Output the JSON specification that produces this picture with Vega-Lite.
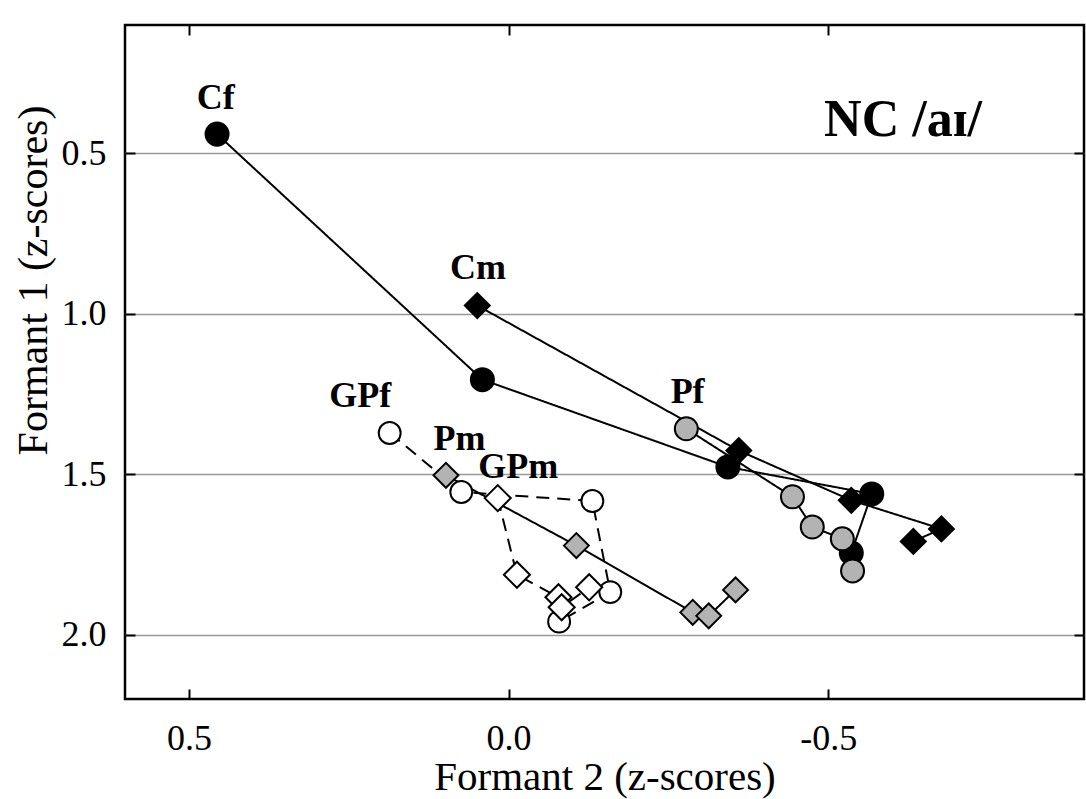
{
  "$schema": "https://vega.github.io/schema/vega-lite/v6.json",
  "width": 959,
  "height": 674,
  "autosize": {"type": "none"},
  "padding": {"left": 125, "top": 25, "right": 2, "bottom": 100},
  "background": "white",
  "config": {
    "view": {"stroke": "black", "strokeWidth": 2.5},
    "font": "Liberation Serif"
  },
  "datasets": {
    "pts": [
      {"g": "Cf", "i": 1, "f2": 0.456, "f1": 0.440},
      {"g": "Cf", "i": 2, "f2": 0.041, "f1": 1.205},
      {"g": "Cf", "i": 3, "f2": -0.343, "f1": 1.477},
      {"g": "Cf", "i": 4, "f2": -0.568, "f1": 1.561},
      {"g": "Cf", "i": 5, "f2": -0.536, "f1": 1.745},
      {"g": "Cm", "i": 1, "f2": 0.049, "f1": 0.974},
      {"g": "Cm", "i": 2, "f2": -0.360, "f1": 1.426},
      {"g": "Cm", "i": 3, "f2": -0.536, "f1": 1.581},
      {"g": "Cm", "i": 4, "f2": -0.677, "f1": 1.670},
      {"g": "Cm", "i": 5, "f2": -0.633, "f1": 1.709},
      {"g": "Pf", "i": 1, "f2": -0.278, "f1": 1.358},
      {"g": "Pf", "i": 2, "f2": -0.444, "f1": 1.570},
      {"g": "Pf", "i": 3, "f2": -0.475, "f1": 1.664},
      {"g": "Pf", "i": 4, "f2": -0.522, "f1": 1.701},
      {"g": "Pf", "i": 5, "f2": -0.538, "f1": 1.801},
      {"g": "Pm", "i": 1, "f2": 0.098, "f1": 1.503},
      {"g": "Pm", "i": 2, "f2": -0.106, "f1": 1.722},
      {"g": "Pm", "i": 3, "f2": -0.288, "f1": 1.930},
      {"g": "Pm", "i": 4, "f2": -0.313, "f1": 1.941},
      {"g": "Pm", "i": 5, "f2": -0.355, "f1": 1.860},
      {"g": "GPf", "i": 1, "f2": 0.186, "f1": 1.371},
      {"g": "GPf", "i": 2, "f2": 0.074, "f1": 1.555},
      {"g": "GPf", "i": 3, "f2": -0.131, "f1": 1.583},
      {"g": "GPf", "i": 4, "f2": -0.159, "f1": 1.867},
      {"g": "GPf", "i": 5, "f2": -0.079, "f1": 1.959},
      {"g": "GPm", "i": 1, "f2": 0.017, "f1": 1.574},
      {"g": "GPm", "i": 2, "f2": -0.013, "f1": 1.813},
      {"g": "GPm", "i": 3, "f2": -0.078, "f1": 1.883},
      {"g": "GPm", "i": 4, "f2": -0.083, "f1": 1.914},
      {"g": "GPm", "i": 5, "f2": -0.126, "f1": 1.852}
    ],
    "labels": [
      {"name": "Cf", "f2": 0.458, "f1": 0.327},
      {"name": "Cm", "f2": 0.048, "f1": 0.858},
      {"name": "Pf", "f2": -0.280, "f1": 1.242},
      {"name": "GPf", "f2": 0.232, "f1": 1.255},
      {"name": "Pm", "f2": 0.077, "f1": 1.389},
      {"name": "GPm", "f2": -0.015, "f1": 1.476}
    ],
    "heading": [
      {"name": "NC /aɪ/", "f2": -0.617, "f1": 0.396}
    ]
  },
  "resolve": {"axis": {"x": "independent", "y": "independent"}},
  "layer": [
    {
      "data": {"name": "pts"},
      "mark": {"type": "line", "stroke": "black", "strokeWidth": 2},
      "encoding": {
        "x": {
          "field": "f2", "type": "quantitative",
          "scale": {"domain": [0.6, -0.9], "nice": false, "zero": false},
          "axis": {
            "orient": "bottom", "values": [0.5, 0, -0.5],
            "labelExpr": "datum.value < 0 ? '-' + format(-datum.value, '.1f') : format(datum.value, '.1f')",
            "title": "Formant 2 (z-scores)", "grid": false, "domain": false,
            "tickSize": -10, "tickColor": "black", "tickWidth": 2,
            "labelFont": "Liberation Serif", "labelFontSize": 36, "labelColor": "black",
            "labelPadding": 32,
            "titleFont": "Liberation Serif", "titleFontSize": 41, "titleFontWeight": "normal",
            "titleColor": "black", "titleBaseline": "alphabetic", "titleY": 90
          }
        },
        "y": {
          "field": "f1", "type": "quantitative",
          "scale": {"domain": [0.1, 2.2], "nice": false, "zero": false, "reverse": true},
          "axis": {
            "orient": "left", "values": [0.5, 1, 1.5, 2], "format": ".1f",
            "title": "Formant 1 (z-scores)", "grid": true, "gridColor": "#999999", "gridWidth": 1.5,
            "domain": false,
            "tickSize": -10, "tickColor": "black", "tickWidth": 2,
            "labelFont": "Liberation Serif", "labelFontSize": 36, "labelColor": "black",
            "labelPadding": 29,
            "titleFont": "Liberation Serif", "titleFontSize": 42, "titleFontWeight": "normal",
            "titleColor": "black", "titleX": -92, "titleY": 255, "titleAngle": -90,
            "titleBaseline": "middle", "titleAlign": "center"
          }
        },
        "detail": {"field": "g", "type": "nominal"},
        "order": {"field": "i", "type": "quantitative"},
        "strokeDash": {
          "field": "g", "type": "nominal",
          "scale": {
            "domain": ["Cf", "Cm", "Pf", "Pm", "GPf", "GPm"],
            "range": [[1, 0], [1, 0], [1, 0], [1, 0], [13, 8], [13, 8]]
          },
          "legend": null
        }
      }
    },
    {
      "data": {"name": "pts"},
      "mark": {"type": "point", "filled": false, "stroke": "black", "strokeWidth": 2, "opacity": 1},
      "encoding": {
        "x": {
          "field": "f2", "type": "quantitative",
          "axis": {
            "orient": "top", "values": [0.5, 0, -0.5], "labels": false, "title": null,
            "grid": false, "domain": false,
            "tickSize": -10, "tickColor": "black", "tickWidth": 2
          }
        },
        "y": {
          "field": "f1", "type": "quantitative",
          "axis": {
            "orient": "right", "values": [0.5, 1, 1.5, 2], "labels": false, "title": null,
            "grid": false, "domain": false,
            "tickSize": -10, "tickColor": "black", "tickWidth": 2
          }
        },
        "shape": {
          "field": "g", "type": "nominal",
          "scale": {
            "domain": ["Cf", "Cm", "Pf", "Pm", "GPf", "GPm"],
            "range": ["circle", "diamond", "circle", "diamond", "circle", "diamond"]
          },
          "legend": null
        },
        "fill": {
          "field": "g", "type": "nominal",
          "scale": {
            "domain": ["Cf", "Cm", "Pf", "Pm", "GPf", "GPm"],
            "range": ["black", "black", "#b3b3b3", "#b3b3b3", "white", "white"]
          },
          "legend": null
        },
        "size": {
          "field": "g", "type": "nominal",
          "scale": {
            "type": "ordinal",
            "domain": ["Cf", "Cm", "Pf", "Pm", "GPf", "GPm"],
            "range": [530, 620, 530, 620, 480, 680]
          },
          "legend": null
        }
      }
    },
    {
      "data": {"name": "labels"},
      "mark": {"type": "text", "font": "Liberation Serif", "fontWeight": "bold", "fontSize": 36, "color": "black", "align": "center", "baseline": "middle"},
      "encoding": {
        "x": {"field": "f2", "type": "quantitative", "axis": null},
        "y": {"field": "f1", "type": "quantitative", "axis": null},
        "text": {"field": "name", "type": "nominal"}
      }
    },
    {
      "data": {"name": "heading"},
      "mark": {"type": "text", "font": "Liberation Serif", "fontWeight": "bold", "fontSize": 52, "color": "black", "align": "center", "baseline": "middle"},
      "encoding": {
        "x": {"field": "f2", "type": "quantitative", "axis": null},
        "y": {"field": "f1", "type": "quantitative", "axis": null},
        "text": {"field": "name", "type": "nominal"}
      }
    }
  ]
}
